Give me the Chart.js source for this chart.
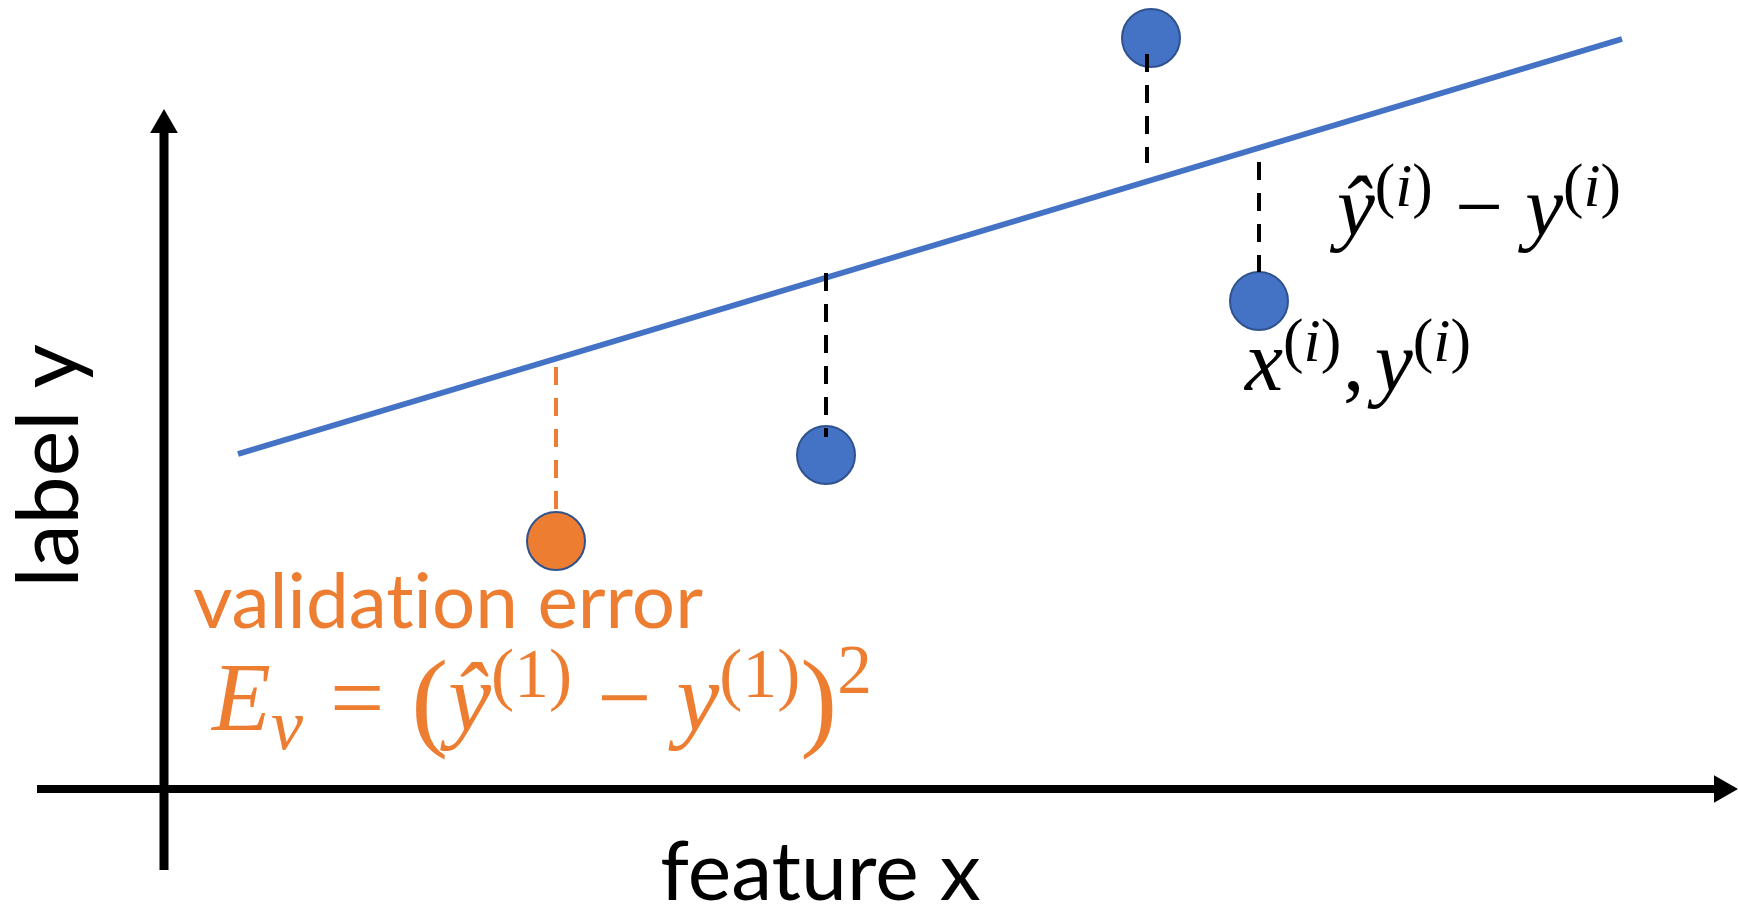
<!DOCTYPE html>
<html>
<head>
<meta charset="utf-8">
<script src="https://cdn.jsdelivr.net/npm/chart.js@4.4.0/dist/chart.umd.min.js"></script>
<style>
  html, body { margin: 0; padding: 0; background: #fff; }
  #wrap { width: 1738px; height: 909px; }
</style>
</head>
<body>
<div id="wrap"><canvas id="chart" width="1738" height="909"></canvas></div>
<script>
// values in axis units, origin where the two axes cross
var trainX = [6.62, 9.87, 10.95];
var trainY = [3.34, 7.51, 4.88];
var validX = [3.92];
var validY = [2.48];

// fitted line end points
var fitX = [0.74, 14.58];
var fitY = [3.35, 7.50];

// residuals (dashed): x, upper end, lower end
var residX = [6.62, 9.83, 10.95];
var residTop = [5.16, 7.35, 6.27];
var residBottom = [3.52, 6.26, 5.17];
var validResidX = [3.92];
var validResidTop = [4.22];
var validResidBottom = [2.76];

// axes
var xAxisLine = [-1.27, 15.58];
var yAxisLine = [-0.81, 6.64];
var xRange = [-1.64, 15.74];
var yRange = [-1.20, 7.89];

var BLUE = '#4472C4', ORANGE = '#ED7D31', EDGE = '#2F528F';

function seg(x0, y0, x1, y1) { return [{x: x0, y: y0}, {x: x1, y: y1}]; }

var datasets = [];

residX.forEach(function(x, i) {
  datasets.push({
    data: seg(x, residTop[i], x, residBottom[i]),
    showLine: true, borderColor: '#000', borderWidth: 4, borderDash: [18, 13],
    pointRadius: 0, order: 0, clip: false
  });
});
validResidX.forEach(function(x, i) {
  datasets.push({
    data: seg(x, validResidTop[i], x, validResidBottom[i]),
    showLine: true, borderColor: ORANGE, borderWidth: 4, borderDash: [18, 13],
    pointRadius: 0, order: 0, clip: false
  });
});

datasets.push({
  data: trainX.map(function(x, i) { return {x: x, y: trainY[i]}; }),
  pointRadius: 29, pointBackgroundColor: BLUE, pointBorderColor: EDGE, pointBorderWidth: 2,
  order: 2, clip: false
});
datasets.push({
  data: validX.map(function(x, i) { return {x: x, y: validY[i]}; }),
  pointRadius: 29, pointBackgroundColor: ORANGE, pointBorderColor: EDGE, pointBorderWidth: 2,
  order: 2, clip: false
});

datasets.push({
  data: seg(fitX[0], fitY[0], fitX[1], fitY[1]),
  showLine: true, borderColor: BLUE, borderWidth: 6, pointRadius: 0, order: 4, clip: false
});

// axis lines + arrow heads
datasets.push({
  data: seg(xAxisLine[0], 0, xAxisLine[1], 0),
  showLine: true, borderColor: '#000', borderWidth: 8, pointRadius: 0, order: 5, clip: false
});
datasets.push({
  data: seg(0, yAxisLine[0], 0, yAxisLine[1]),
  showLine: true, borderColor: '#000', borderWidth: 9, pointRadius: 0, order: 5, clip: false
});
datasets.push({
  data: [{x: xAxisLine[1], y: 0}],
  pointStyle: 'triangle', rotation: 90, pointRadius: 16,
  pointBackgroundColor: '#000', pointBorderWidth: 0, order: 5, clip: false
});
datasets.push({
  data: [{x: 0, y: yAxisLine[1]}],
  pointStyle: 'triangle', rotation: 0, pointRadius: 16,
  pointBackgroundColor: '#000', pointBorderWidth: 0, order: 5, clip: false
});

// ---- text helpers ----
function inkBox(ctx, text) {
  var m = ctx.measureText(text);
  return {left: m.actualBoundingBoxLeft, w: m.actualBoundingBoxLeft + m.actualBoundingBoxRight};
}

function fitSans(ctx, text, width) {
  ctx.font = '100px Lato';
  var b = inkBox(ctx, text);
  var size = 100 * width / b.w;
  ctx.font = size + 'px Lato';
  return inkBox(ctx, text);
}

function mathFont(size, run) {
  return (run.it ? 'italic ' : '') + (size * (run.s || 1)) + 'px "Liberation Serif"';
}

function mathWidth(ctx, runs, size) {
  var w = 0;
  runs.forEach(function(r) {
    ctx.font = mathFont(size, r);
    w += (r.gap || 0) * size + ctx.measureText(r.t).width;
  });
  return w;
}

function drawMath(ctx, runs, left, baseline, width, color) {
  var size = 100 * width / mathWidth(ctx, runs, 100);
  var x = left;
  ctx.fillStyle = color;
  ctx.textAlign = 'left';
  ctx.textBaseline = 'alphabetic';
  runs.forEach(function(r) {
    x += (r.gap || 0) * size;
    ctx.font = mathFont(size, r);
    ctx.fillText(r.t, x, baseline - (r.dy || 0) * size);
    x += ctx.measureText(r.t).width;
  });
}

function sup(t, it) { return {t: t, it: it, s: 0.72, dy: 0.34}; }

var residLabel = [
  {t: 'ŷ', it: 1},
  sup('(', 0), sup('i', 1), sup(')', 0),
  {t: '−', gap: 0.26},
  {t: 'y', it: 1, gap: 0.26},
  sup('(', 0), sup('i', 1), sup(')', 0)
];
var pointLabel = [
  {t: 'x', it: 1},
  sup('(', 0), sup('i', 1), sup(')', 0),
  {t: ',', gap: 0.02},
  {t: 'y', it: 1, gap: 0.12},
  sup('(', 0), sup('i', 1), sup(')', 0)
];
var errorLabel = [
  {t: 'E', it: 1},
  {t: 'v', it: 1, s: 0.75, dy: -0.2},
  {t: '=', gap: 0.28},
  {t: '(', s: 1.15, dy: -0.06, gap: 0.28},
  {t: 'ŷ', it: 1},
  sup('(', 0), sup('1', 0), sup(')', 0),
  {t: '−', gap: 0.26},
  {t: 'y', it: 1, gap: 0.26},
  sup('(', 0), sup('1', 0), sup(')', 0),
  {t: ')', s: 1.15, dy: -0.06},
  {t: '2', s: 0.72, dy: 0.38}
];

// zero-width non-joiner keeps Lato from fusing "ti"
var validText = 'validat\u200Cion error';

var notes = {
  id: 'notes',
  afterDatasetsDraw: function(chart) {
    var ctx = chart.ctx, sx = chart.scales.x, sy = chart.scales.y;
    var px = function(v) { return sx.getPixelForValue(v); };
    var py = function(v) { return sy.getPixelForValue(v); };
    ctx.save();
    ctx.textAlign = 'left';
    ctx.textBaseline = 'alphabetic';

    // axis titles
    ctx.fillStyle = '#000';
    var b = fitSans(ctx, 'feature x', 318);
    ctx.fillText('feature x', px(6.57) - b.w / 2 + b.left, py(-1.11));

    ctx.save();
    ctx.translate(px(-0.86), py(3.26));
    ctx.rotate(-Math.PI / 2);
    b = fitSans(ctx, 'label y', 237);
    ctx.fillText('label y', -b.w / 2 + b.left, 0);
    ctx.restore();

    // validation note
    ctx.fillStyle = ORANGE;
    b = fitSans(ctx, validText, 509);
    ctx.fillText(validText, px(0.29) + b.left, py(1.61));
    drawMath(ctx, errorLabel, px(0.48), py(0.59), 660, ORANGE);

    // residual / point labels
    drawMath(ctx, residLabel, px(11.73), py(5.54), 284, '#000');
    drawMath(ctx, pointLabel, px(10.81), py(3.99), 226, '#000');
    ctx.restore();
  }
};

new Chart(document.getElementById('chart'), {
  type: 'scatter',
  data: {datasets: datasets},
  options: {
    responsive: false,
    animation: false,
    events: [],
    layout: {padding: 0, autoPadding: false},
    plugins: {legend: {display: false}, tooltip: {enabled: false}},
    scales: {
      x: {type: 'linear', display: false, min: xRange[0], max: xRange[1]},
      y: {type: 'linear', display: false, min: yRange[0], max: yRange[1]}
    }
  },
  plugins: [notes]
});
</script>
</body>
</html>
